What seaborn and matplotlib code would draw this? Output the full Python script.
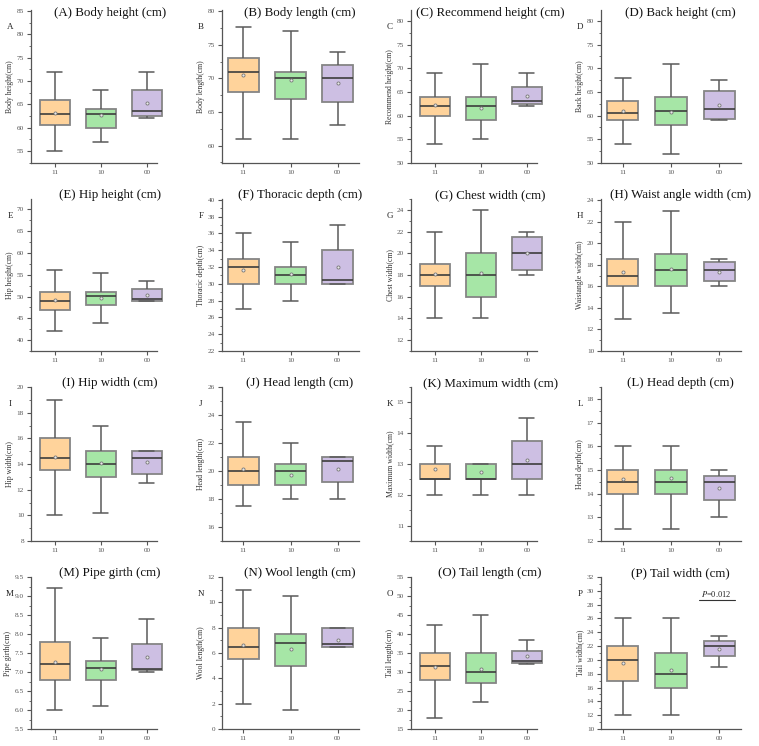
import numpy as np
import pandas as pd
import matplotlib
matplotlib.use("Agg")
import matplotlib.pyplot as plt
import matplotlib.transforms as mtransforms
from matplotlib.ticker import AutoMinorLocator, MultipleLocator, FormatStrFormatter
import seaborn as sns

# ---------------- data ----------------
groups = ["11", "10", "00"]
letters = list("ABCDEFGHIJKLMNOP")
titles = [
    "(A) Body height (cm)", "(B) Body length (cm)", "(C) Recommend height (cm)", "(D) Back height (cm)",
    "(E) Hip height (cm)", "(F) Thoracic depth (cm)", "(G) Chest width (cm)", "(H) Waist angle width (cm)",
    "(I) Hip width (cm)", "(J) Head length (cm)", "(K) Maximum width (cm)", "(L) Head depth (cm)",
    "(M) Pipe girth (cm)", "(N) Wool length (cm)", "(O) Tail length (cm)", "(P) Tail width (cm)",
]
ylabels = [
    "Body height(cm)", "Body length(cm)", "Recommend height(cm)", "Back height(cm)",
    "Hip height(cm)", "Thoracic depth(cm)", "Chest width(cm)", "Waistangle width(cm)",
    "Hip width(cm)", "Head length(cm)", "Maximum width(cm)", "Head depth(cm)",
    "Pipe girth(cm)", "Wool length(cm)", "Tail length(cm)", "Tail width(cm)",
]
# per panel: values for groups 11, 10, 00
whisker_low = [
    [55, 57, 62], [61, 61, 63], [54, 55, 62], [54, 52, 59],
    [42, 44, 49], [27, 28, 30], [14, 14, 18], [13, 13.5, 16],
    [10, 10.2, 12.5], [17.5, 18, 18], [12, 12, 12], [12.5, 12.5, 13],
    [6.0, 6.1, 7.0], [2, 1.5, 6.5], [18, 22, 32], [12, 12, 19],
]
q1 = [
    [60.5, 60, 62.5], [68, 67, 66.5], [60, 59, 62.5], [59, 58, 59.2],
    [47, 48, 49], [30, 30, 30], [17, 16, 18.5], [16, 16, 16.5],
    [13.5, 13, 13.25], [19, 19, 19.25], [12.5, 12.5, 12.5], [14, 14, 13.75],
    [6.8, 6.8, 7.04], [5.5, 5, 6.5], [28, 27, 32.5], [17, 16, 20.5],
]
median = [
    [63, 63, 63.5], [71, 70, 70], [62, 62, 63], [60.5, 61, 61.3],
    [49, 50.2, 49.5], [32, 31, 30.5], [18, 18, 20], [17, 17.5, 17.5],
    [14.5, 14, 14.5], [20, 20, 20.75], [12.5, 12.5, 13], [14.5, 14.5, 14.5],
    [7.2, 7.1, 7.08], [6.5, 6.8, 6.7], [31.7, 30, 33], [20, 18, 22],
]
q3 = [
    [66, 64, 68], [73, 71, 72], [64, 64, 66], [63, 64, 65.2],
    [51, 51, 51.7], [33, 32, 34], [19, 20, 21.5], [18.5, 19, 18.25],
    [16, 15, 15], [21, 20.5, 21], [13, 13, 13.75], [15, 15, 14.75],
    [7.8, 7.3, 7.75], [8, 7.5, 8], [35, 35, 35.6], [22, 21, 22.7],
]
whisker_high = [
    [72, 68, 72], [77.6, 77, 74], [69, 71, 69], [68, 71, 67.5],
    [56, 55.5, 53.5], [36, 35, 37], [22, 24, 22], [22, 23, 18.5],
    [19, 17, 15], [23.5, 22, 21], [13.6, 13, 14.5], [16, 16, 15],
    [9.2, 7.9, 8.4], [11, 10.5, 8], [42.5, 45, 38.5], [26, 26, 23.5],
]
means = [
    [63.1, 62.6, 65.3], [70.5, 69.7, 69.3], [62.2, 61.7, 64.2], [61.0, 60.7, 62.3],
    [49.3, 49.6, 50.4], [31.7, 31.2, 32.0], [18.1, 18.2, 20.0], [17.3, 17.6, 17.35],
    [14.55, 14.1, 14.15], [20.17, 19.73, 20.12], [12.85, 12.74, 13.13], [14.6, 14.65, 14.25],
    [7.26, 7.09, 7.4], [6.6, 6.35, 7.06], [31.2, 30.8, 34.1], [19.5, 18.5, 21.65],
]
ylims = [
    (52.4, 85.2), (57.4, 80.2), (50, 82.3), (50, 82.3),
    (37.5, 72.4), (22, 40.1), (11, 25), (10, 24.1),
    (8, 20), (15, 26), (10.5, 15.5), (12, 18.5),
    (5.5, 9.5), (0, 12), (15, 55), (10, 32),
]
ytick_steps = [5, 5, 5, 5, 5, 2, 2, 2, 2, 2, 1, 1, 0.5, 2, 5, 2]
p_label = "0.012"

# ---------------- style ----------------
sns.set_theme(style="ticks")
plt.rcParams["font.family"] = ["Liberation Serif", "DejaVu Serif"]
plt.rcParams["mathtext.fontset"] = "stix"

palette = {"11": "#FFD39B", "10": "#A6E6A6", "00": "#CDBFE3"}
W, H = 759, 746
fig = plt.figure(figsize=(W / 100, H / 100), dpi=100)

rows_px = [(10, 163), (199, 351), (387, 541), (577, 729)]
cols_px = [(31, 157), (222, 359), (411, 537), (601, 741)]
xlims = [(-0.52, 2.22), (-0.45, 2.45), (-0.52, 2.22), (-0.45, 2.45)]
axcol = "#555555"

for i in range(16):
    r, c = divmod(i, 4)
    t, b = rows_px[r]
    l, rr = cols_px[c]
    ax = fig.add_axes([l / W, 1 - b / H, (rr - l) / W, (b - t) / H])
    ax.set_facecolor("white")

    vals = []
    grp = []
    for g in range(3):
        five = [whisker_low[i][g], q1[i][g], median[i][g], q3[i][g], whisker_high[i][g]]
        vals.extend(five)
        grp.extend([groups[g]] * 5)
    df = pd.DataFrame({"group": grp, "value": vals})

    sns.boxplot(
        data=df, x="group", y="value", hue="group", order=groups, hue_order=groups,
        palette=palette, saturation=1, width=0.65, whis=(0, 100), showfliers=False,
        linewidth=1.1, legend=False, ax=ax,
        boxprops=dict(edgecolor="#858585", linewidth=1.3),
        medianprops=dict(color="#3d3d3d", linewidth=1.2),
        whiskerprops=dict(color="#5a5a5a", linewidth=1.1),
        capprops=dict(color="#5a5a5a", linewidth=1.1),
    )
    for art in list(ax.patches) + list(ax.lines):
        art.set_clip_on(False)
    ax.scatter(np.arange(3), means[i], s=5, facecolors="#e8e8e8", edgecolors="#777777",
               linewidths=0.6, zorder=5, clip_on=False)

    ax.set_xlim(*xlims[c])
    ax.set_ylim(*ylims[i])
    ax.yaxis.set_major_locator(MultipleLocator(ytick_steps[i]))
    ax.yaxis.set_minor_locator(AutoMinorLocator(2))
    if ytick_steps[i] < 1:
        ax.yaxis.set_major_formatter(FormatStrFormatter("%.1f"))
    else:
        ax.yaxis.set_major_formatter(FormatStrFormatter("%d"))
    ax.tick_params(axis="both", which="major", length=3, width=0.8, color=axcol,
                   labelsize=5.2, labelcolor="#555555", pad=2)
    ax.tick_params(axis="y", which="minor", length=1.8, width=0.6, color=axcol)
    sns.despine(ax=ax)
    for s in ["left", "bottom"]:
        ax.spines[s].set_color(axcol)
        ax.spines[s].set_linewidth(0.9)
    ax.set_xlabel("")
    ax.set_ylabel(ylabels[i], fontsize=5.6, labelpad=2, color="#333333")

    wpx, hpx = rr - l, b - t
    ty = 1 - 3 / hpx if r == 0 else 1 + 4 / hpx
    trans = mtransforms.blended_transform_factory(ax.transData, ax.transAxes)
    ax.text(1.2, ty, titles[i], transform=trans, ha="center", va="center",
            fontsize=9.3, color="#111111")
    ax.text(-21 / wpx, 1 - 17 / hpx, letters[i], transform=ax.transAxes,
            ha="center", va="center", fontsize=6.5, color="#222222")

    if letters[i] == "P":
        ax.plot([1.57, 2.32], [28.7, 28.7], color="#333333", linewidth=0.8)
        ax.text(1.94, 28.85, r"$\it{P}$=" + p_label, ha="center", va="bottom",
                fontsize=6, color="#222222")

fig.savefig("out.png", dpi=100)
